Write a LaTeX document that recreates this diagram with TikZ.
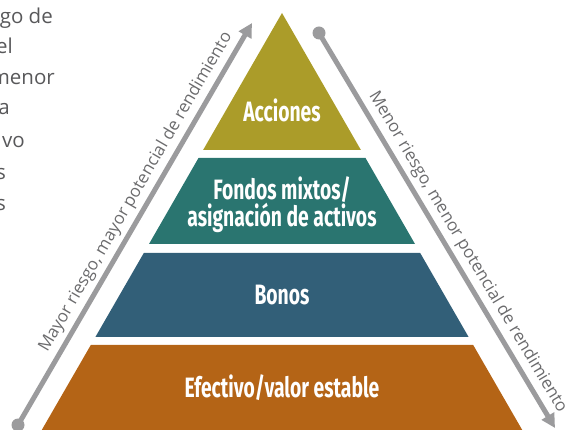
\documentclass[tikz,border=0pt]{standalone}
\usepackage{fontspec}
\setmainfont{Open Sans}
\newfontfamily\condfont{Fira Sans Bold}[FakeStretch=0.69]
\usetikzlibrary{arrows.meta}
\definecolor{cOlive}{HTML}{AB9C29}
\definecolor{cTeal}{HTML}{2A7570}
\definecolor{cBlue}{HTML}{325F78}
\definecolor{cOrange}{HTML}{B46416}
\definecolor{cArrow}{HTML}{9B9B9D}
\definecolor{cLabel}{HTML}{6B6B6D}
\definecolor{cPara}{HTML}{58585A}
\tikzset{
  layertext/.style={text=white, inner sep=0pt, anchor=base, font=\condfont\fontsize{28}{30}\selectfont},
  arrowline/.style={draw=cArrow, line width=5pt, -{Triangle[length=14pt,width=14pt]}},
  enddot/.style={circle, fill=cArrow, inner sep=0pt, minimum size=13pt},
  arrowlabel/.style={text=cLabel, inner sep=0pt, font=\fontsize{17}{19}\selectfont},
  para/.style={text=cPara, inner sep=0pt, anchor=base east, font=\fontsize{20.5}{24}\selectfont}
}
\begin{document}
\begin{tikzpicture}[x=1pt,y=-1pt]
\useasboundingbox (0,0) rectangle (565,430);
\clip (0,0) rectangle (565,430);
% pyramid layers
\fill[cOlive] (282,13) -- (360.9,150) -- (203.1,150) -- cycle;
\fill[cTeal] (198.5,158) -- (365.5,158) -- (415,244) -- (149,244) -- cycle;
\fill[cBlue] (143.8,253) -- (420.2,253) -- (468.6,337) -- (95.4,337) -- cycle;
\fill[cOrange] (90.8,345) -- (473.2,345) -- (523.4,432) -- (40.6,432) -- cycle;
% layer labels
\node[layertext] (acc) at (282,122) {Acciones};
\node[layertext] (fon1) at (282,200) {Fondos mixtos/};
\node[layertext] (fon2) at (282,227) {asignación de activos};
\node[layertext] (bon) at (282,305) {Bonos};
\node[layertext] (efe) at (282,397) {Efectivo/valor estable};
% arrows
\node[enddot] (LA) at (18,425) {};
\coordinate (LB) at (252,23);
\node[enddot] (RA) at (319,33) {};
\coordinate (RB) at (555,428);
\draw[arrowline] (LA.center) -- (LB);
\draw[arrowline] (RA.center) -- (RB);
\path (LA.center) -- (LB) node[pos=0.56, sloped, above=6.5pt, arrowlabel] (labL) {Mayor riesgo, mayor potencial de rendimiento};
\path (RA.center) -- (RB) node[pos=0.575, sloped, above=6.5pt, arrowlabel] (labR) {Menor riesgo, menor potencial de rendimiento};
% cut-off paragraph at left
\node[para] (p1) at (53,24) {go de};
\node[para] (p2) at (13,54) {el};
\node[para] (p3) at (55,85) {menor};
\node[para] (p4) at (10,115) {a};
\node[para] (p5) at (25,148) {vo};
\node[para] (p6) at (6,180) {s};
\node[para] (p7) at (6,211) {s};
\end{tikzpicture}
\end{document}
